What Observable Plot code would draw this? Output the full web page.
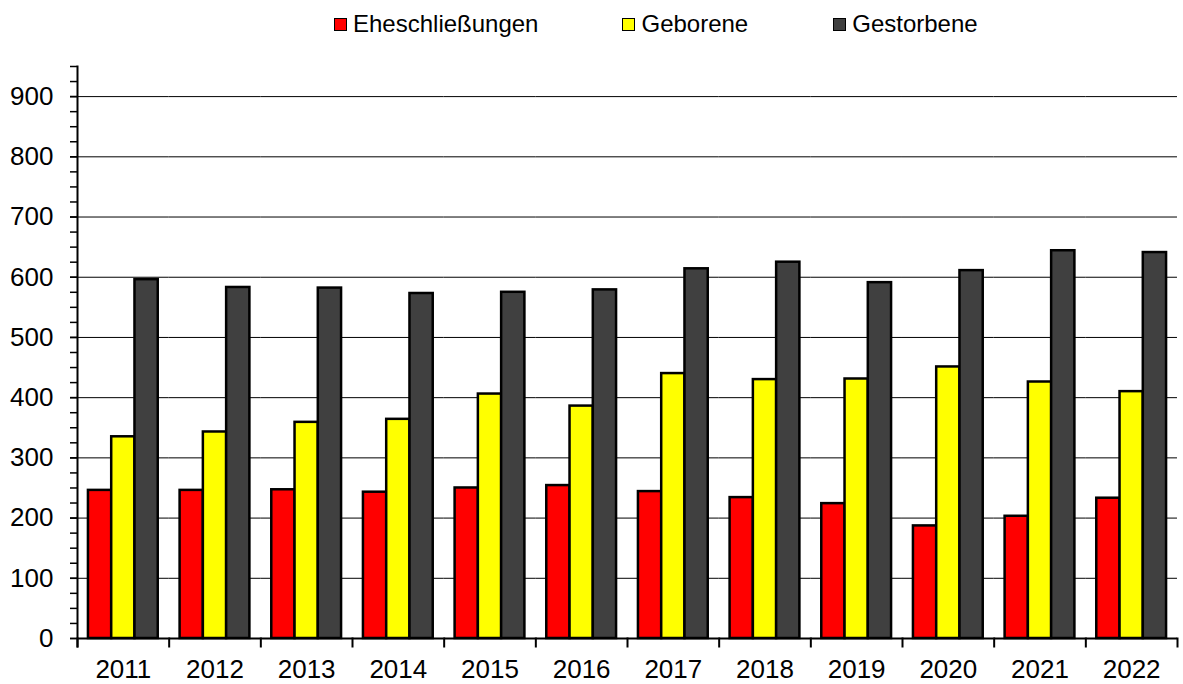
<!DOCTYPE html>
<html><head><meta charset="utf-8">
<script src="https://cdn.jsdelivr.net/npm/d3@7"></script>
<script src="https://cdn.jsdelivr.net/npm/@observablehq/plot@0.6"></script>
<style>
body{margin:0;background:#fff;font-family:"Liberation Sans",Arial,sans-serif;color:#000;}
#legend{height:48px;display:flex;justify-content:flex-start;align-items:center;padding-left:334px;box-sizing:border-box;width:1183px;font-size:24px;}
.item{display:flex;align-items:center;}
.sw{width:11px;height:11px;border:1.5px solid #000;margin-right:6px;}
</style></head><body>
<div id="legend"></div><div id="chart"></div>
<script>
const years = ["2011","2012","2013","2014","2015","2016","2017","2018","2019","2020","2021","2022"];
const series = ["Eheschließungen","Geborene","Gestorbene"];
const colors = ["#ff0000","#ffff00","#404040"];
const eheschliessungen = [246,246,247,243,250,254,244,234,224,187,203,233];
const geborene = [335,343,359,364,406,386,440,430,431,451,426,410];
const gestorbene = [596,583,582,573,575,579,614,625,591,611,644,641];
const yTicks = [0,100,200,300,400,500,600,700,800,900];

const values = [eheschliessungen, geborene, gestorbene];
const data = [];
years.forEach((y, i) => series.forEach((s, j) => data.push({year: y, series: s, value: values[j][i]})));

const legend = document.getElementById("legend");
const gaps = [84, 85, 0];
series.forEach((s, j) => {
  const it = document.createElement("div"); it.className = "item";
  it.style.marginRight = gaps[j] + "px";
  const sw = document.createElement("div"); sw.className = "sw"; sw.style.background = colors[j];
  const t = document.createElement("span"); t.textContent = s;
  it.append(sw, t); legend.append(it);
});

const W = 1183, H = 636, MT = 18, MB = 46;
const plotH = H - MT - MB;
const chart = Plot.plot({
  width: W, height: H, marginTop: MT, marginBottom: MB, marginLeft: 77, marginRight: 6,
  style: {fontFamily: '"Liberation Sans", Arial, sans-serif', fontSize: "26px", color: "#000", background: "#fff"},
  fx: {domain: years, padding: 0, round: false, label: null},
  x: {domain: series, paddingInner: 0, paddingOuter: 0.47, round: false, axis: null},
  y: {domain: [0, 950], label: null, axis: null},
  color: {domain: series, range: colors},
  marks: [
    Plot.ruleY(yTicks.filter(d => d > 0), {stroke: "#000", strokeWidth: 1}),
    Plot.barY(data, {fx: "year", x: "series", y: "value", fill: "series", stroke: "#000", strokeWidth: 2.5}),
    Plot.ruleY([0], {stroke: "#000", strokeWidth: 2}),
    Plot.axisY({ticks: yTicks, tickSize: 7, tickPadding: 17, fontSize: 26, label: null, strokeWidth: 1.5}),
    Plot.axisY({ticks: d3.range(0, 951, 25), tickSize: 7, tickFormat: () => "", label: null, strokeWidth: 1.5}),
    Plot.axisFx({anchor: "bottom", tickSize: 0, tickPadding: 21, fontSize: 26, label: null}),
    Plot.frame({anchor: "left", facetAnchor: "left", insetBottom: -8, stroke: "#000", strokeWidth: 2}),
    Plot.frame({anchor: "left", insetTop: plotH, insetBottom: -8, stroke: "#000", strokeWidth: 2}),
    Plot.frame({anchor: "right", facetAnchor: "right", insetTop: plotH, insetBottom: -8, stroke: "#000", strokeWidth: 2})
  ]
});
document.getElementById("chart").append(chart);
</script>
</body></html>
